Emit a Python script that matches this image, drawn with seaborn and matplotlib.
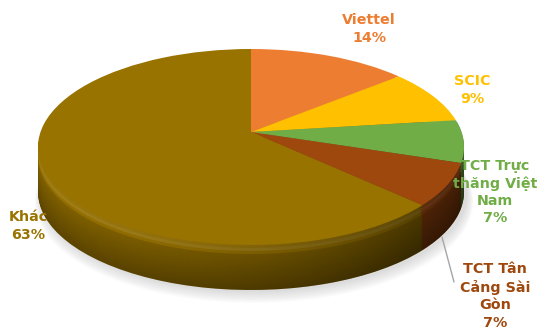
import matplotlib
matplotlib.use("Agg")
import matplotlib.pyplot as plt
import matplotlib.transforms as mtransforms
from matplotlib.patches import Polygon
import seaborn as sns
import numpy as np
from matplotlib.colors import to_rgb

sns.set_theme(style="white")
plt.rcParams['font.family'] = ['DejaVu Sans']

labels = ["Viettel", "SCIC", "TCT Trực\nthăng Việt\nNam", "TCT Tân\nCảng Sài\nGòn", "Khác"]
values = [14, 9, 7, 7, 63]
colors = ["#ED7D31", "#FFC000", "#70AD47", "#9E480E", "#997300"]

W, H = 537, 333
fig = plt.figure(figsize=(W / 100, H / 100), dpi=100)
ax = fig.add_axes([0, 0, 1, 1])

# perspective geometry (pixels)
CX, CY = 251, 132        # apex of the slices
SX, SY = 210.5, 95.7
K = 0.153
DEPTH = 45


class Persp(mtransforms.Transform):
    input_dims = 2
    output_dims = 2
    is_separable = False
    has_inverse = False

    def __init__(self, dy=0.0, dx=0.0, scale=1.0):
        super().__init__()
        self.dy, self.dx, self.scale = dy, dx, scale

    def transform_non_affine(self, xy):
        xy = np.asarray(xy, dtype=float)
        u, v = xy[:, 0] * self.scale, xy[:, 1] * self.scale
        w = 1 + K * v
        return np.column_stack([CX + self.dx + SX * u / w,
                                (H - CY) + SY * v / w - self.dy])


def shade(c, f):
    r, g, b = to_rgb(c)
    if f <= 1:
        return (r * f, g * f, b * f)
    t = f - 1
    return (r + (1 - r) * t, g + (1 - g) * t, b + (1 - b) * t)


def draw_pie(cols, dy, dx=0.0, scale=1.0, alpha=1.0):
    wedges, _ = ax.pie(values, colors=cols, startangle=90, counterclock=False,
                       center=(0, 0), radius=1.0,
                       wedgeprops=dict(linewidth=0, alpha=alpha))
    for w in wedges:
        w.set_transform(Persp(dy, dx, scale) + ax.transData)
    return wedges


# soft shadow
for i in range(8):
    draw_pie(["#7f7f7f"] * len(values), DEPTH + 2 + i, dx=3, scale=1.0 + 0.004 * i,
             alpha=0.035)

# side wall
n = 45
for k, d in enumerate(np.linspace(DEPTH, 3, n)):
    f = 0.62 + 0.28 * (k / (n - 1))
    draw_pie([shade(c, f) for c in colors], d)

# bevel highlight
draw_pie([shade(c, 1.0) for c in colors], 9)
draw_pie([shade(c, 1.10) for c in colors], 6)
draw_pie([shade(c, 1.05) for c in colors], 3)

# horizontal lighting gradient on the wall
ks = np.arcsin(K)
t_low = np.linspace(np.pi + ks, 2 * np.pi - ks, 200)
t_up = np.linspace(-ks, np.pi + ks, 200)
p_low = Persp(DEPTH).transform(np.column_stack([np.cos(t_low), np.sin(t_low)]))
p_up = Persp(0).transform(np.column_stack([np.cos(t_up), np.sin(t_up)]))
clip = Polygon(np.vstack([p_low, p_up]), closed=True, transform=ax.transData,
               facecolor='none', edgecolor='none')
ax.add_patch(clip)
xs = np.linspace(0, 1, 256)
grad = np.zeros((2, 256, 4))
grad[..., 3] = 0.02 + 0.5 * xs ** 1.6
x0, x1 = CX - SX * 1.05, CX + SX * 1.05
im = ax.imshow(grad, extent=[x0, x1, H - CY - 200, H - CY + 10],
               aspect='auto', zorder=1.5, interpolation='bilinear')
im.set_clip_path(clip)

# top face
for w in draw_pie(colors, 0):
    w.set_zorder(2)

ax.set_aspect('auto')
ax.set_xlim(0, W)
ax.set_ylim(0, H)
ax.axis('off')

# labels (pixel positions of centre, from top-left)
label_pos = [(369, 29), (472, 90), (495, 192), (495, 296), (28, 226)]
for lab, v, c, (px, py) in zip(labels, values, colors, label_pos):
    ax.text(px, H - py, f"{lab}\n{v}%", color=c, fontsize=10.3,
            fontweight='bold', ha='center', va='center', linespacing=1.3,
            zorder=5)

# leader line for TCT Tân Cảng
ax.plot([442, 454], [H - 237, H - 282], color="#A6A6A6", linewidth=1, zorder=4)

fig.savefig("out.png", dpi=100)
